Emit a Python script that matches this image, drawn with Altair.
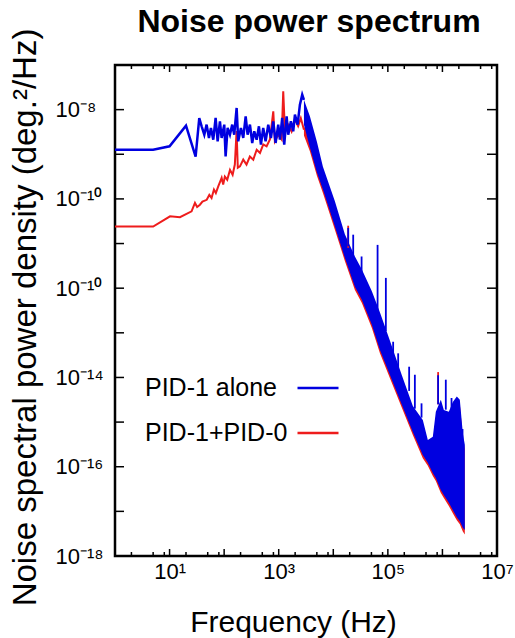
import altair as alt
import pandas as pd

# ---------------- data ----------------
# low-frequency part of the traces (Hz, deg^2/Hz)
blue_freq = [1, 5, 10, 20, 30, 35, 38.7, 43.3, 47.7, 52.7, 57.3, 63.2, 69.8, 76.0, 83.7,
             89.9, 100.5, 106.4, 115.8, 127.7, 140.6, 153.1, 169.4, 181.1, 203, 224, 248,
             269, 297, 327, 356, 394, 434, 472, 520, 575, 643, 720, 794, 877, 980, 1052,
             1159, 1262, 1396, 1493, 1672, 1845, 1982, 2218, 2445, 2697, 2900]
blue_psd = [1.26e-9, 1.26e-9, 1.51e-9, 4.37e-9, 8.91e-10, 6.46e-9, 4.23e-9, 2.75e-9,
            4.61e-9, 2.32e-9, 3.89e-9, 2.12e-9, 6.52e-9, 1.95e-9, 5.47e-9, 2.32e-9,
            4.61e-9, 8.97e-10, 3.89e-9, 2.75e-9, 4.61e-9, 2.75e-9, 1.09e-8, 1.95e-9,
            3.89e-9, 2.32e-9, 7.08e-9, 2.75e-9, 4.61e-9, 1.79e-9, 3.27e-9, 2.12e-9,
            4.23e-9, 1.64e-9, 3.89e-9, 1.95e-9, 4.61e-9, 2.32e-9, 5.47e-9, 1.79e-9,
            4.61e-9, 2.12e-9, 6.52e-9, 1.64e-9, 7.08e-9, 2.75e-9, 5.47e-9, 3.27e-9,
            7.73e-9, 4.61e-9, 1.29e-8, 2.17e-8, 1.66e-8]

red_freq = [1, 5, 10.2, 15.5, 25.3, 29.2, 32, 36, 40, 48, 53.5, 58.8, 65, 70.5, 78, 90,
            96, 103, 114, 128, 143, 157, 169, 178, 195, 224, 257, 296, 342, 395, 454,
            521, 600, 690, 795, 850, 980, 1130, 1210, 1300, 1490, 1720, 1980, 2270,
            2540, 2900]
red_psd = [2.40e-11, 2.40e-11, 4.07e-11, 3.89e-11, 5.25e-11, 8.13e-11, 6.61e-11,
           7.41e-11, 8.71e-11, 9.55e-11, 1.23e-10, 1.05e-10, 1.62e-10, 1.35e-10,
           1.91e-10, 2.95e-10, 2.09e-10, 3.16e-10, 2.69e-10, 4.47e-10, 3.47e-10,
           5.89e-10, 3.31e-9, 5.01e-10, 5.37e-10, 7.59e-10, 5.89e-10, 8.91e-10,
           7.59e-10, 1.26e-9, 1.07e-9, 1.66e-9, 1.51e-9, 2.14e-9, 9.12e-9, 1.95e-9,
           2.75e-9, 2.14e-9, 2.57e-8, 3.24e-9, 4.57e-9, 3.24e-9, 6.03e-9, 4.27e-9,
           6.46e-9, 3.55e-9]

# high-frequency part: the dense trace drawn as its envelope (upper / lower)
band_freq = [2900, 3725, 5010, 6460, 10700, 16300, 24900, 33400, 50900, 71400, 108800,
             180500, 287000, 437000, 540000, 667000, 757000, 935000, 1062000, 1310000,
             1550000, 1835000, 2083000, 2365000, 2570000]
blue_hi = [1.66e-8, 7.08e-9, 1.91e-9, 5.25e-10, 8.91e-11, 1.62e-11, 5.13e-12, 2.63e-12,
           8.51e-13, 2.88e-13, 6.76e-14, 1.12e-14, 2.29e-15, 1.12e-15, 3.98e-16,
           4.68e-16, 1.70e-15, 3.16e-15, 1.86e-15, 1.70e-15, 2.82e-15, 3.72e-15,
           3.16e-15, 5.62e-16, 3.09e-16]
blue_lo = [4.57e-9, 1.41e-9, 3.89e-10, 1.62e-10, 2.40e-11, 4.79e-12, 1.07e-12, 5.50e-13,
           1.51e-13, 4.17e-14, 1.15e-14, 2.45e-15, 6.03e-16, 1.82e-16, 1.23e-16,
           7.24e-17, 5.62e-17, 3.02e-17, 2.34e-17, 1.55e-17, 1.07e-17, 7.41e-18,
           6.03e-18, 4.27e-18, 3.80e-18]
red_hi = [4.0e-9, 3.98e-9, 1.12e-9, 3.16e-10, 5.62e-11, 1.05e-11, 3.31e-12, 1.66e-12,
          5.37e-13, 1.82e-13, 4.27e-14, 7.59e-15, 1.91e-15, 8.91e-16, 3.16e-16, 3.55e-16,
          1.26e-15, 2.51e-15, 1.41e-15, 1.26e-15, 2.24e-15, 2.82e-15, 2.51e-15, 4.5e-16,
          2.51e-16]
red_lo = [2.63e-9, 1.17e-9, 3.31e-10, 1.35e-10, 2.04e-11, 4.07e-12, 9.12e-13, 4.68e-13,
          1.29e-13, 3.55e-14, 9.77e-15, 2.09e-15, 5.13e-16, 1.55e-16, 1.05e-16, 6.17e-17,
          4.79e-17, 2.57e-17, 2.00e-17, 1.32e-17, 9.12e-18, 6.31e-18, 5.13e-18, 3.55e-18,
          3.02e-18]

# isolated spikes rising above the dense trace
spike_freq = [18750, 23170, 33000, 64800, 91900, 125000, 154500, 245500, 312500,
              414000, 834000, 1153000, 1468000, 2334000]
spike_top = [2.24e-11, 1.58e-11, 5.13e-12, 9.33e-12, 1.70e-12, 6.31e-14, 3.47e-14,
             1.74e-14, 1.15e-14, 2.63e-15, 1.12e-14, 8.91e-15, 3.47e-15, 7.0e-16]
spike_base = [8.7e-12, 4.7e-12, 2.0e-12, 3.0e-13, 1.1e-13, 3.2e-14, 1.6e-14, 5.0e-15,
              2.0e-15, 1.26e-15, 2.5e-15, 1.9e-15, 2.0e-15, 4.0e-16]
red_spike_freq = [18750, 834000]
red_spike_top = [2.51e-11, 1.32e-14]
red_spike_base = [8.0e-12, 2.5e-15]

series_names = ["PID-1 alone", "PID-1+PID-0"]
series_colors = ["#0000e0", "#ee1c1c"]

# axis ticks / labels
x_label_values = [10, 1000, 100000, 10000000]
x_major_ticks = [1, 10, 100, 1000, 10000, 100000, 1000000, 10000000]
x_minor_ticks = [2, 5, 8, 20, 50, 80, 200, 500, 800, 2000, 5000, 8000, 20000, 50000,
                 80000, 200000, 500000, 800000, 2000000, 5000000, 8000000]
y_label_values = [1e-18, 1e-16, 1e-14, 1e-12, 1e-10, 1e-8]
y_ticks = [1e-17, 1e-16, 1e-15, 1e-14, 1e-13, 1e-12, 1e-11, 1e-10, 1e-9, 1e-8]

# ---------------- build ----------------
W, H = 382, 491
FONT = "Liberation Sans"

blue_df = pd.DataFrame({"f": blue_freq, "v": blue_psd, "series": series_names[0]})
red_df = pd.DataFrame({"f": red_freq, "v": red_psd, "series": series_names[1]})
band_blue = pd.DataFrame({"f": band_freq, "lo": blue_lo, "hi": blue_hi})
band_red = pd.DataFrame({"f": band_freq, "lo": red_lo, "hi": red_hi})
spk_blue = pd.DataFrame({"f": spike_freq, "lo": spike_base, "hi": spike_top})
spk_red = pd.DataFrame({"f": red_spike_freq, "lo": red_spike_base, "hi": red_spike_top})
xmaj = pd.DataFrame({"f": x_major_ticks})
xmin = pd.DataFrame({"f": x_minor_ticks})
yt = pd.DataFrame({"v": y_ticks})

xscale = alt.Scale(type="log", domain=[1, 1e7])
yscale = alt.Scale(type="log", domain=[1e-18, 1e-7])

x_axis = alt.Axis(
    values=x_label_values,
    labelExpr="datum.value < 100 ? '10¹' : datum.value < 10000 ? '10³' : datum.value < 1000000 ? '10⁵' : '10⁷'",
    ticks=False, tickSize=0, domain=False, grid=False,
    labelFont=FONT, labelFontSize=22, labelColor="black", labelPadding=5,
    labelBaseline="top", labelFlush=False, labelOverlap=False,
    titleFont=FONT, titleFontSize=30, titleFontWeight="normal", titleColor="black",
    titleX=178, titleY=75, titleBaseline="alphabetic", titleAlign="center",
)
y_axis = alt.Axis(
    values=y_label_values,
    labelExpr="datum.value < 1e-17 ? '10⁻¹⁸' : datum.value < 1e-15 ? '10⁻¹⁶' : datum.value < 1e-13 ? '10⁻¹⁴' : datum.value < 1e-9 ? '10⁻¹⁰' : '10⁻⁸'",
    ticks=False, tickSize=0, domain=False, grid=False,
    labelFont=FONT, labelFontSize=22, labelColor="black", labelPadding=60,
    labelAlign="left", labelBaseline="middle", labelFlush=False, labelOverlap=False,
    titleFont=FONT, titleFontSize=33, titleFontWeight="normal", titleColor="black",
    titleAngle=270, titleX=-80, titleY=252, titleBaseline="alphabetic", titleAlign="center",
)


def X(field):
    return alt.X(f"{field}:Q", scale=xscale, axis=x_axis, title="Frequency (Hz)")


def Y(field):
    return alt.Y(f"{field}:Q", scale=yscale, axis=y_axis,
                 title="Noise spectral power density (deg.²/Hz)")


color_scale = alt.Scale(domain=series_names, range=series_colors)
legend = alt.Legend(
    orient="none", legendX=181, legendY=301, title=None,
    symbolType="stroke", symbolSize=1681, symbolStrokeWidth=2.5,
    labelFont=FONT, labelFontSize=25, labelColor="black", labelLimit=0,
    labelOffset={"expr": "-195"}, labelAlign="left", rowPadding=10, padding=0,
)

red_line = alt.Chart(red_df).mark_line(strokeWidth=2, clip=True).encode(
    x=X("f"), y=Y("v"),
    color=alt.Color("series:N", scale=color_scale, legend=legend),
)
red_band = alt.Chart(band_red).mark_area(color=series_colors[1], clip=True).encode(
    x=X("f"), y=Y("lo"), y2="hi")
blue_line = alt.Chart(blue_df).mark_line(strokeWidth=2.5, clip=True).encode(
    x=X("f"), y=Y("v"),
    color=alt.Color("series:N", scale=color_scale, legend=legend),
)
blue_band = alt.Chart(band_blue).mark_area(color=series_colors[0], clip=True).encode(
    x=X("f"), y=Y("lo"), y2="hi")
red_spikes = alt.Chart(spk_red).mark_rule(color=series_colors[1], strokeWidth=1.8).encode(
    x=X("f"), y=Y("lo"), y2="hi")
blue_spikes = alt.Chart(spk_blue).mark_rule(color=series_colors[0], strokeWidth=1.8).encode(
    x=X("f"), y=Y("lo"), y2="hi")

tick_style = dict(color="black", strokeWidth=1.5)
xmaj_bottom = alt.Chart(xmaj).mark_rule(**tick_style).encode(
    x=X("f"), y=alt.value(H), y2=alt.value(H - 7))
xmaj_top = alt.Chart(xmaj).mark_rule(**tick_style).encode(
    x=X("f"), y=alt.value(0), y2=alt.value(7))
xmin_bottom = alt.Chart(xmin).mark_rule(**tick_style).encode(
    x=X("f"), y=alt.value(H), y2=alt.value(H - 4))
xmin_top = alt.Chart(xmin).mark_rule(**tick_style).encode(
    x=X("f"), y=alt.value(0), y2=alt.value(4))
y_left = alt.Chart(yt).mark_rule(**tick_style).encode(
    y=Y("v"), x=alt.value(0), x2=alt.value(9))
y_right = alt.Chart(yt).mark_rule(**tick_style).encode(
    y=Y("v"), x=alt.value(W), x2=alt.value(W - 10))

chart = alt.layer(
    red_line, red_band, blue_line, blue_band, red_spikes, blue_spikes,
    xmaj_bottom, xmaj_top, xmin_bottom, xmin_top, y_left, y_right,
).properties(
    width=W, height=H,
    autosize=alt.AutoSizeParams(type="none"),
    padding={"left": 115, "top": 65, "right": 18, "bottom": 82},
    title=alt.TitleParams(
        text="Noise power spectrum", font=FONT, fontSize=32, fontWeight="bold",
        color="black", anchor="middle", frame="group", offset=32,
        baseline="alphabetic", dx=3, dy=68,
    ),
).configure_view(
    stroke="black", strokeWidth=2.5, fill="white",
)

chart.save("out.html", embed_options={"renderer": "svg", "actions": False})
